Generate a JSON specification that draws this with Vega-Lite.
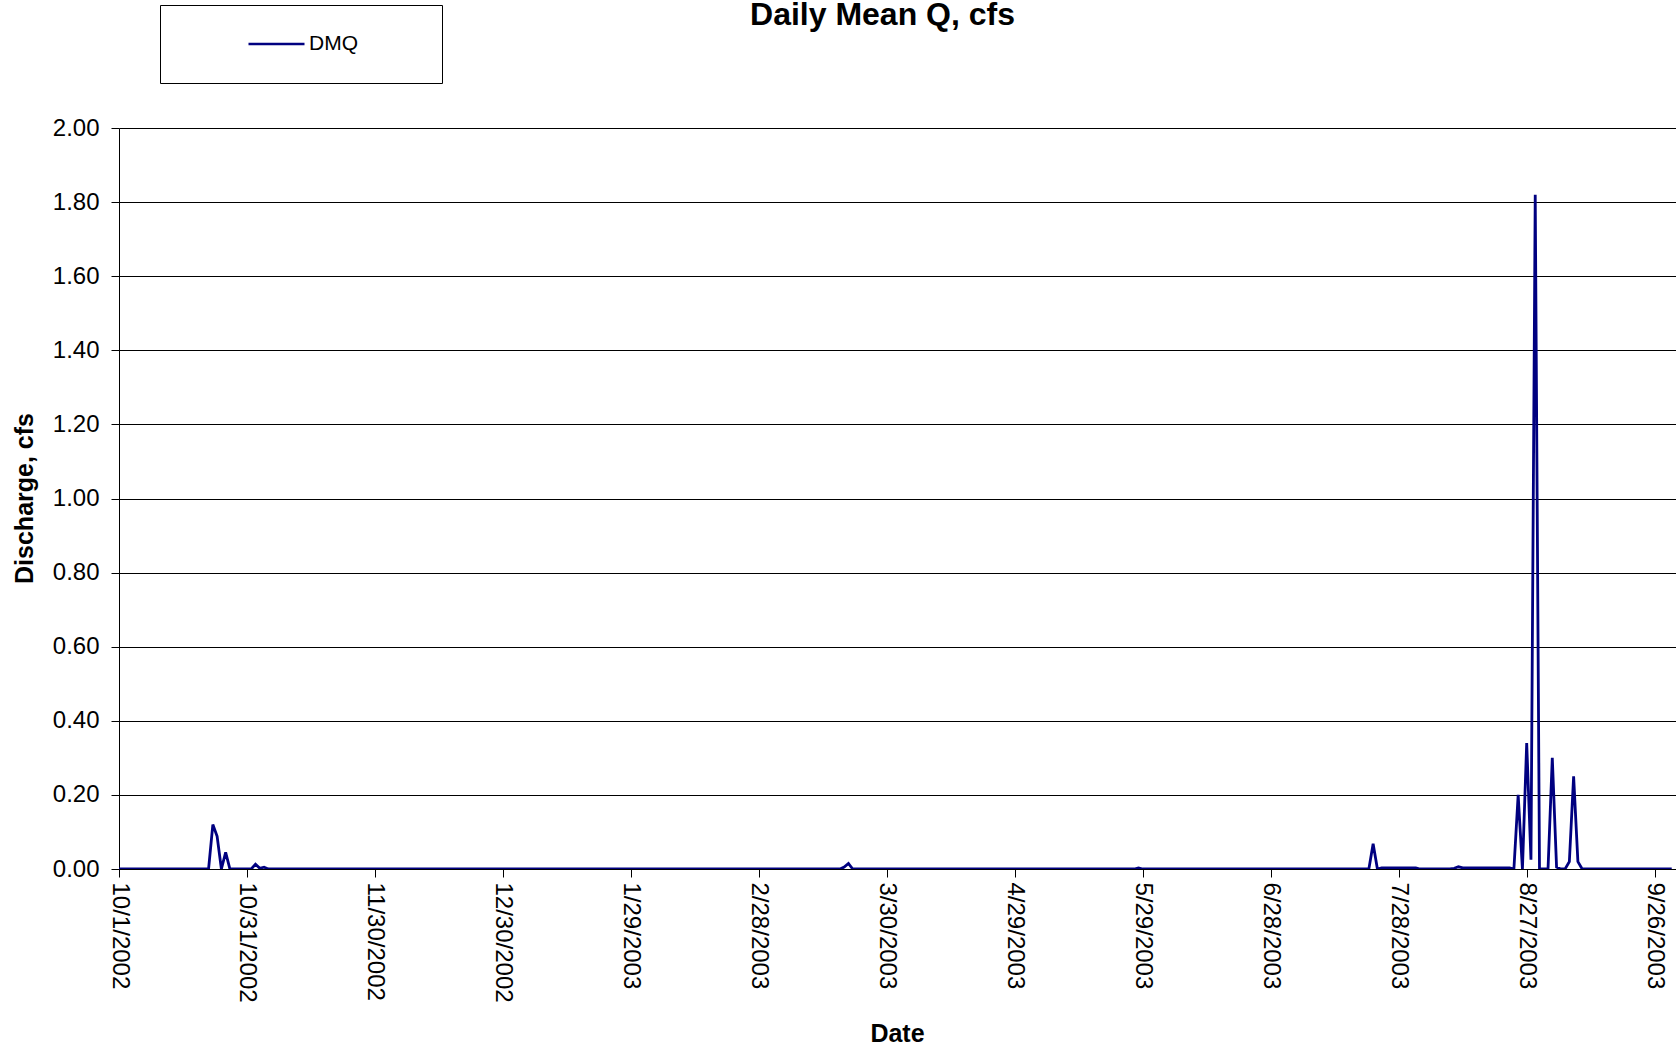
{
"$schema": "https://vega.github.io/schema/vega-lite/v6.json",
"autosize": {"type": "none"},
"padding": {"left": 119, "top": 128, "right": 0, "bottom": 179},
"width": 1557,
"height": 741,
"background": "white",
"config": {"view": {"stroke": null}, "font": "Liberation Sans"},
"title": {"text": "Daily Mean Q, cfs", "fontSize": 32, "fontWeight": "bold", "font": "Liberation Sans", "color": "black", "anchor": "middle", "frame": "group", "dx": -15, "baseline": "alphabetic", "offset": -52},
"data": {"values": [
{"date":"2002-10-01","q":0},{"date":"2002-10-02","q":0},{"date":"2002-10-03","q":0},{"date":"2002-10-04","q":0},{"date":"2002-10-05","q":0},{"date":"2002-10-06","q":0},{"date":"2002-10-07","q":0},{"date":"2002-10-08","q":0},{"date":"2002-10-09","q":0},{"date":"2002-10-10","q":0},
{"date":"2002-10-11","q":0},{"date":"2002-10-12","q":0},{"date":"2002-10-13","q":0},{"date":"2002-10-14","q":0},{"date":"2002-10-15","q":0},{"date":"2002-10-16","q":0},{"date":"2002-10-17","q":0},{"date":"2002-10-18","q":0},{"date":"2002-10-19","q":0},{"date":"2002-10-20","q":0},
{"date":"2002-10-21","q":0},{"date":"2002-10-22","q":0},{"date":"2002-10-23","q":0.12},{"date":"2002-10-24","q":0.088},{"date":"2002-10-25","q":0},{"date":"2002-10-26","q":0.045},{"date":"2002-10-27","q":0},{"date":"2002-10-28","q":0},{"date":"2002-10-29","q":0},{"date":"2002-10-30","q":0},{"date":"2002-10-31","q":0},
{"date":"2002-11-01","q":0},{"date":"2002-11-02","q":0.013},{"date":"2002-11-03","q":0.002},{"date":"2002-11-04","q":0.005},{"date":"2002-11-05","q":0},{"date":"2002-11-06","q":0},{"date":"2002-11-07","q":0},{"date":"2002-11-08","q":0},{"date":"2002-11-09","q":0},{"date":"2002-11-10","q":0},
{"date":"2002-11-11","q":0},{"date":"2002-11-12","q":0},{"date":"2002-11-13","q":0},{"date":"2002-11-14","q":0},{"date":"2002-11-15","q":0},{"date":"2002-11-16","q":0},{"date":"2002-11-17","q":0},{"date":"2002-11-18","q":0},{"date":"2002-11-19","q":0},{"date":"2002-11-20","q":0},
{"date":"2002-11-21","q":0},{"date":"2002-11-22","q":0},{"date":"2002-11-23","q":0},{"date":"2002-11-24","q":0},{"date":"2002-11-25","q":0},{"date":"2002-11-26","q":0},{"date":"2002-11-27","q":0},{"date":"2002-11-28","q":0},{"date":"2002-11-29","q":0},{"date":"2002-11-30","q":0},
{"date":"2002-12-01","q":0},{"date":"2002-12-02","q":0},{"date":"2002-12-03","q":0},{"date":"2002-12-04","q":0},{"date":"2002-12-05","q":0},{"date":"2002-12-06","q":0},{"date":"2002-12-07","q":0},{"date":"2002-12-08","q":0},{"date":"2002-12-09","q":0},{"date":"2002-12-10","q":0},
{"date":"2002-12-11","q":0},{"date":"2002-12-12","q":0},{"date":"2002-12-13","q":0},{"date":"2002-12-14","q":0},{"date":"2002-12-15","q":0},{"date":"2002-12-16","q":0},{"date":"2002-12-17","q":0},{"date":"2002-12-18","q":0},{"date":"2002-12-19","q":0},{"date":"2002-12-20","q":0},
{"date":"2002-12-21","q":0},{"date":"2002-12-22","q":0},{"date":"2002-12-23","q":0},{"date":"2002-12-24","q":0},{"date":"2002-12-25","q":0},{"date":"2002-12-26","q":0},{"date":"2002-12-27","q":0},{"date":"2002-12-28","q":0},{"date":"2002-12-29","q":0},{"date":"2002-12-30","q":0},{"date":"2002-12-31","q":0},
{"date":"2003-01-01","q":0},{"date":"2003-01-02","q":0},{"date":"2003-01-03","q":0},{"date":"2003-01-04","q":0},{"date":"2003-01-05","q":0},{"date":"2003-01-06","q":0},{"date":"2003-01-07","q":0},{"date":"2003-01-08","q":0},{"date":"2003-01-09","q":0},{"date":"2003-01-10","q":0},
{"date":"2003-01-11","q":0},{"date":"2003-01-12","q":0},{"date":"2003-01-13","q":0},{"date":"2003-01-14","q":0},{"date":"2003-01-15","q":0},{"date":"2003-01-16","q":0},{"date":"2003-01-17","q":0},{"date":"2003-01-18","q":0},{"date":"2003-01-19","q":0},{"date":"2003-01-20","q":0},
{"date":"2003-01-21","q":0},{"date":"2003-01-22","q":0},{"date":"2003-01-23","q":0},{"date":"2003-01-24","q":0},{"date":"2003-01-25","q":0},{"date":"2003-01-26","q":0},{"date":"2003-01-27","q":0},{"date":"2003-01-28","q":0},{"date":"2003-01-29","q":0},{"date":"2003-01-30","q":0},{"date":"2003-01-31","q":0},
{"date":"2003-02-01","q":0},{"date":"2003-02-02","q":0},{"date":"2003-02-03","q":0},{"date":"2003-02-04","q":0},{"date":"2003-02-05","q":0},{"date":"2003-02-06","q":0},{"date":"2003-02-07","q":0},{"date":"2003-02-08","q":0},{"date":"2003-02-09","q":0},{"date":"2003-02-10","q":0},
{"date":"2003-02-11","q":0},{"date":"2003-02-12","q":0},{"date":"2003-02-13","q":0},{"date":"2003-02-14","q":0},{"date":"2003-02-15","q":0},{"date":"2003-02-16","q":0},{"date":"2003-02-17","q":0},{"date":"2003-02-18","q":0},{"date":"2003-02-19","q":0},{"date":"2003-02-20","q":0},
{"date":"2003-02-21","q":0},{"date":"2003-02-22","q":0},{"date":"2003-02-23","q":0},{"date":"2003-02-24","q":0},{"date":"2003-02-25","q":0},{"date":"2003-02-26","q":0},{"date":"2003-02-27","q":0},{"date":"2003-02-28","q":0},
{"date":"2003-03-01","q":0},{"date":"2003-03-02","q":0},{"date":"2003-03-03","q":0},{"date":"2003-03-04","q":0},{"date":"2003-03-05","q":0},{"date":"2003-03-06","q":0},{"date":"2003-03-07","q":0},{"date":"2003-03-08","q":0},{"date":"2003-03-09","q":0},{"date":"2003-03-10","q":0},
{"date":"2003-03-11","q":0},{"date":"2003-03-12","q":0},{"date":"2003-03-13","q":0},{"date":"2003-03-14","q":0},{"date":"2003-03-15","q":0},{"date":"2003-03-16","q":0},{"date":"2003-03-17","q":0},{"date":"2003-03-18","q":0},{"date":"2003-03-19","q":0},{"date":"2003-03-20","q":0.005},
{"date":"2003-03-21","q":0.015},{"date":"2003-03-22","q":0},{"date":"2003-03-23","q":0},{"date":"2003-03-24","q":0},{"date":"2003-03-25","q":0},{"date":"2003-03-26","q":0},{"date":"2003-03-27","q":0},{"date":"2003-03-28","q":0},{"date":"2003-03-29","q":0},{"date":"2003-03-30","q":0},{"date":"2003-03-31","q":0},
{"date":"2003-04-01","q":0},{"date":"2003-04-02","q":0},{"date":"2003-04-03","q":0},{"date":"2003-04-04","q":0},{"date":"2003-04-05","q":0},{"date":"2003-04-06","q":0},{"date":"2003-04-07","q":0},{"date":"2003-04-08","q":0},{"date":"2003-04-09","q":0},{"date":"2003-04-10","q":0},
{"date":"2003-04-11","q":0},{"date":"2003-04-12","q":0},{"date":"2003-04-13","q":0},{"date":"2003-04-14","q":0},{"date":"2003-04-15","q":0},{"date":"2003-04-16","q":0},{"date":"2003-04-17","q":0},{"date":"2003-04-18","q":0},{"date":"2003-04-19","q":0},{"date":"2003-04-20","q":0},
{"date":"2003-04-21","q":0},{"date":"2003-04-22","q":0},{"date":"2003-04-23","q":0},{"date":"2003-04-24","q":0},{"date":"2003-04-25","q":0},{"date":"2003-04-26","q":0},{"date":"2003-04-27","q":0},{"date":"2003-04-28","q":0},{"date":"2003-04-29","q":0},{"date":"2003-04-30","q":0},
{"date":"2003-05-01","q":0},{"date":"2003-05-02","q":0},{"date":"2003-05-03","q":0},{"date":"2003-05-04","q":0},{"date":"2003-05-05","q":0},{"date":"2003-05-06","q":0},{"date":"2003-05-07","q":0},{"date":"2003-05-08","q":0},{"date":"2003-05-09","q":0},{"date":"2003-05-10","q":0},
{"date":"2003-05-11","q":0},{"date":"2003-05-12","q":0},{"date":"2003-05-13","q":0},{"date":"2003-05-14","q":0},{"date":"2003-05-15","q":0},{"date":"2003-05-16","q":0},{"date":"2003-05-17","q":0},{"date":"2003-05-18","q":0},{"date":"2003-05-19","q":0},{"date":"2003-05-20","q":0},
{"date":"2003-05-21","q":0},{"date":"2003-05-22","q":0},{"date":"2003-05-23","q":0},{"date":"2003-05-24","q":0},{"date":"2003-05-25","q":0},{"date":"2003-05-26","q":0},{"date":"2003-05-27","q":0},{"date":"2003-05-28","q":0.003},{"date":"2003-05-29","q":0},{"date":"2003-05-30","q":0},{"date":"2003-05-31","q":0},
{"date":"2003-06-01","q":0},{"date":"2003-06-02","q":0},{"date":"2003-06-03","q":0},{"date":"2003-06-04","q":0},{"date":"2003-06-05","q":0},{"date":"2003-06-06","q":0},{"date":"2003-06-07","q":0},{"date":"2003-06-08","q":0},{"date":"2003-06-09","q":0},{"date":"2003-06-10","q":0},
{"date":"2003-06-11","q":0},{"date":"2003-06-12","q":0},{"date":"2003-06-13","q":0},{"date":"2003-06-14","q":0},{"date":"2003-06-15","q":0},{"date":"2003-06-16","q":0},{"date":"2003-06-17","q":0},{"date":"2003-06-18","q":0},{"date":"2003-06-19","q":0},{"date":"2003-06-20","q":0},
{"date":"2003-06-21","q":0},{"date":"2003-06-22","q":0},{"date":"2003-06-23","q":0},{"date":"2003-06-24","q":0},{"date":"2003-06-25","q":0},{"date":"2003-06-26","q":0},{"date":"2003-06-27","q":0},{"date":"2003-06-28","q":0},{"date":"2003-06-29","q":0},{"date":"2003-06-30","q":0},
{"date":"2003-07-01","q":0},{"date":"2003-07-02","q":0},{"date":"2003-07-03","q":0},{"date":"2003-07-04","q":0},{"date":"2003-07-05","q":0},{"date":"2003-07-06","q":0},{"date":"2003-07-07","q":0},{"date":"2003-07-08","q":0},{"date":"2003-07-09","q":0},{"date":"2003-07-10","q":0},
{"date":"2003-07-11","q":0},{"date":"2003-07-12","q":0},{"date":"2003-07-13","q":0},{"date":"2003-07-14","q":0},{"date":"2003-07-15","q":0},{"date":"2003-07-16","q":0},{"date":"2003-07-17","q":0},{"date":"2003-07-18","q":0},{"date":"2003-07-19","q":0},{"date":"2003-07-20","q":0},
{"date":"2003-07-21","q":0},{"date":"2003-07-22","q":0.068},{"date":"2003-07-23","q":0},{"date":"2003-07-24","q":0.003},{"date":"2003-07-25","q":0.003},{"date":"2003-07-26","q":0.003},{"date":"2003-07-27","q":0.003},{"date":"2003-07-28","q":0.003},{"date":"2003-07-29","q":0.003},{"date":"2003-07-30","q":0.003},{"date":"2003-07-31","q":0.003},
{"date":"2003-08-01","q":0.003},{"date":"2003-08-02","q":0},{"date":"2003-08-03","q":0},{"date":"2003-08-04","q":0},{"date":"2003-08-05","q":0},{"date":"2003-08-06","q":0},{"date":"2003-08-07","q":0},{"date":"2003-08-08","q":0},{"date":"2003-08-09","q":0},{"date":"2003-08-10","q":0.002},
{"date":"2003-08-11","q":0.006},{"date":"2003-08-12","q":0.003},{"date":"2003-08-13","q":0.003},{"date":"2003-08-14","q":0.003},{"date":"2003-08-15","q":0.003},{"date":"2003-08-16","q":0.003},{"date":"2003-08-17","q":0.003},{"date":"2003-08-18","q":0.003},{"date":"2003-08-19","q":0.003},{"date":"2003-08-20","q":0.003},
{"date":"2003-08-21","q":0.003},{"date":"2003-08-22","q":0.003},{"date":"2003-08-23","q":0.003},{"date":"2003-08-24","q":0},{"date":"2003-08-25","q":0.2},{"date":"2003-08-26","q":0},{"date":"2003-08-27","q":0.34},{"date":"2003-08-28","q":0.025},{"date":"2003-08-29","q":1.82},{"date":"2003-08-30","q":0},{"date":"2003-08-31","q":0},
{"date":"2003-09-01","q":0},{"date":"2003-09-02","q":0.3},{"date":"2003-09-03","q":0.005},{"date":"2003-09-04","q":0},{"date":"2003-09-05","q":0},{"date":"2003-09-06","q":0.02},{"date":"2003-09-07","q":0.25},{"date":"2003-09-08","q":0.02},{"date":"2003-09-09","q":0},{"date":"2003-09-10","q":0},
{"date":"2003-09-11","q":0},{"date":"2003-09-12","q":0},{"date":"2003-09-13","q":0},{"date":"2003-09-14","q":0},{"date":"2003-09-15","q":0},{"date":"2003-09-16","q":0},{"date":"2003-09-17","q":0},{"date":"2003-09-18","q":0},{"date":"2003-09-19","q":0},{"date":"2003-09-20","q":0},
{"date":"2003-09-21","q":0},{"date":"2003-09-22","q":0},{"date":"2003-09-23","q":0},{"date":"2003-09-24","q":0},{"date":"2003-09-25","q":0},{"date":"2003-09-26","q":0},{"date":"2003-09-27","q":0},{"date":"2003-09-28","q":0},{"date":"2003-09-29","q":0},{"date":"2003-09-30","q":0}
]},
"mark": {"type": "line", "strokeWidth": 2.8, "clip": true},
"encoding": {
  "x": {"field": "date", "type": "temporal",
    "scale": {"type": "utc", "domain": [{"year": 2002, "month": 10, "date": 1, "utc": true}, {"year": 2003, "month": 10, "date": 1, "utc": true}]},
    "axis": {"title": "Date", "titleFontSize": 25, "titleFontWeight": "bold", "titleColor": "black", "titleX": 778, "titleY": 164, "titleBaseline": "middle",
      "values": [
        {"year": 2002, "month": 10, "date": 1, "utc": true},
        {"year": 2002, "month": 10, "date": 31, "utc": true},
        {"year": 2002, "month": 11, "date": 30, "utc": true},
        {"year": 2002, "month": 12, "date": 30, "utc": true},
        {"year": 2003, "month": 1, "date": 29, "utc": true},
        {"year": 2003, "month": 2, "date": 28, "utc": true},
        {"year": 2003, "month": 3, "date": 30, "utc": true},
        {"year": 2003, "month": 4, "date": 29, "utc": true},
        {"year": 2003, "month": 5, "date": 29, "utc": true},
        {"year": 2003, "month": 6, "date": 28, "utc": true},
        {"year": 2003, "month": 7, "date": 28, "utc": true},
        {"year": 2003, "month": 8, "date": 27, "utc": true},
        {"year": 2003, "month": 9, "date": 26, "utc": true}
      ],
      "format": "%-m/%-d/%Y", "labelAngle": 90, "labelAlign": "left", "labelBaseline": "middle", "labelFontSize": 24, "labelColor": "black", "labelPadding": 5,
      "labelOverlap": false, "labelFlush": false, "labelBound": false, "tickSize": 8, "tickColor": "black", "domainColor": "black", "grid": false}},
  "y": {"field": "q", "type": "quantitative",
    "scale": {"domain": [0, 2], "nice": false, "zero": true},
    "axis": {"title": "Discharge, cfs", "titleFontSize": 25, "titleFontWeight": "bold", "titleColor": "black", "titleX": -95, "titleY": 370, "titleBaseline": "middle", "titleAngle": 270,
      "values": [0, 0.2, 0.4, 0.6, 0.8, 1.0, 1.2, 1.4, 1.6, 1.8, 2.0], "format": ".2f",
      "labelFontSize": 24, "labelColor": "black", "labelPadding": 12, "tickSize": 8, "tickColor": "black", "domainColor": "black",
      "grid": true, "gridColor": "black", "gridWidth": 1, "labelOverlap": false, "labelFlush": false}},
  "color": {"datum": "DMQ", "type": "nominal", "scale": {"range": ["#000080"]},
    "legend": {"orient": "none", "legendX": 41, "legendY": -123, "title": null, "strokeColor": "black", "fillColor": "white", "padding": 27, "clipHeight": 24,
      "symbolType": "stroke", "symbolSize": 3136, "symbolStrokeWidth": 2.5, "symbolOffset": 60,
      "labelFontSize": 21, "labelFont": "Liberation Sans", "labelColor": "black", "labelOffset": 3, "labelExpr": "datum.label + '\u2800\u00a0\u2800\u00a0\u2800'"}}
}
}
